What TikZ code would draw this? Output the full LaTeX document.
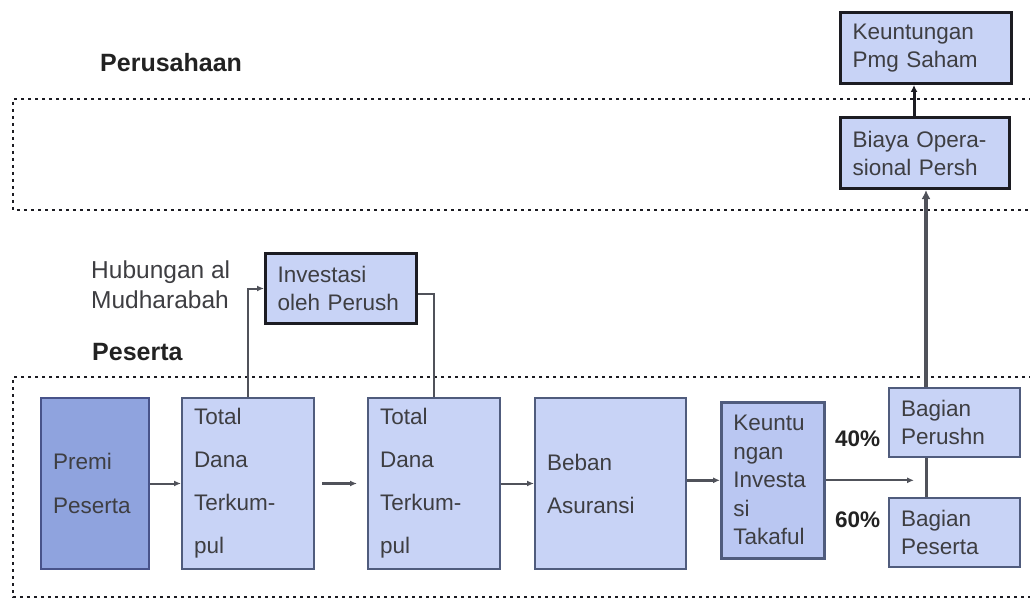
\documentclass[tikz,border=0pt]{standalone}
\usepackage{fontspec}
\setmainfont{Liberation Sans}
\usetikzlibrary{arrows.meta}
\definecolor{boxfill}{RGB}{200,211,246}
\definecolor{kitfill}{RGB}{186,199,242}
\definecolor{premifill}{RGB}{143,163,222}
\definecolor{boxline}{RGB}{80,92,125}
\definecolor{darkline}{RGB}{28,28,34}
\definecolor{txt}{RGB}{62,62,66}
\definecolor{arrowc}{RGB}{80,82,90}
\definecolor{titlec}{RGB}{34,34,34}
\tikzset{
  box/.style={draw=boxline, line width=2pt, fill=boxfill, inner xsep=12pt, inner ysep=0pt,
    text=txt, align=left, anchor=north west, font=\fontsize{22.5}{28}\selectfont},
  darkbox/.style={box, draw=darkline, line width=3pt},
  zone/.style={draw=darkline, line width=2.6pt, dash pattern=on 2.6pt off 4.4pt},
  flow/.style={draw=arrowc, line width=2pt, -{Latex[length=7pt,width=6pt]}},
  link/.style={draw=arrowc, line width=2pt},
  title/.style={font=\fontsize{25}{29}\selectfont\bfseries, text=titlec, anchor=base west, inner sep=0pt},
  note/.style={font=\fontsize{24.5}{30}\selectfont, text=txt, anchor=north west, align=left, inner sep=0pt},
  pct/.style={font=\fontsize{22.5}{26}\selectfont\bfseries, text=titlec, anchor=west, inner sep=0pt}
}
\begin{document}
\begin{tikzpicture}[x=1pt,y=-1pt]
\useasboundingbox (0,0) rectangle (1030,599);
% zones
\draw[zone] (1032,99) -- (13,99) -- (13,210) -- (1032,210);
\draw[zone] (1032,377) -- (13,377) -- (13,597) -- (1032,597);
% titles
\node[title] (tper) at (100,72) {Perusahaan};
\node[title] (tpes) at (92,360) {Peserta};
\node[note] (hub) at (91,261) {Hubungan al\\Mudharabah};
% top boxes
\node[darkbox, text width=147, minimum height=71] (kps) at (839,11) {Keuntungan\\Pmg Saham};
\node[darkbox, text width=145, minimum height=71] (biaya) at (839,116) {Biaya Opera-\\sional Persh};
\node[darkbox, text width=127, minimum height=70] (inv) at (264,252) {Investasi\\oleh Perush};
% lower boxes
\node[box, fill=premifill, draw=boxline!90!blue, text width=84, minimum height=171, font=\fontsize{22.5}{44}\selectfont] (premi) at (40,397) {Premi\\Peserta};
\node[box, text width=108, minimum height=171, font=\fontsize{22.5}{43}\selectfont] (td1) at (181,397) {Total\\Dana\\Terkum-\\pul};
\node[box, text width=108, minimum height=171, font=\fontsize{22.5}{43}\selectfont] (td2) at (367,397) {Total\\Dana\\Terkum-\\pul};
\node[box, text width=127, minimum height=171, font=\fontsize{22.5}{43}\selectfont] (beban) at (534,397) {Beban\\Asuransi};
\node[box, fill=kitfill, line width=2.6pt, text width=79, minimum height=156, font=\fontsize{22.5}{28.5}\selectfont] (kit) at (720,401) {Keuntu\\ngan\\Investa\\si\\Takaful};
\node[box, text width=107, minimum height=69] (bp1) at (888,387) {Bagian\\Perushn};
\node[box, text width=107, minimum height=69] (bp2) at (888,497) {Bagian\\Peserta};
% percentages
\node[pct] (p40) at (835,439) {40\%};
\node[pct] (p60) at (835,520) {60\%};
% coordinates
\coordinate (up) at ([xshift=38pt]bp1.north west);
\coordinate (upk) at ([xshift=75pt]biaya.north west);
% connectors
\draw[flow] (premi.east) -- (td1.west);
\draw[flow, line width=2.6pt, shorten <=7pt, shorten >=10pt] (td1.east) -- (td2.west);
\draw[flow] (td2.east) -- (beban.west);
\draw[flow, line width=2.6pt] (beban.east |- kit.west) -- (kit.west);
\draw[link, -{Latex[length=7pt,width=6pt]}] (td1.north) |- (inv.west);
\draw[link] ([yshift=-5pt]inv.east) -| (td2.north);
\draw[flow, shorten >=12pt] (kit.east) -- (kit.east -| up);
\draw[link, line width=3pt] (up |- bp1.south) -- (up |- bp2.north);
\draw[draw=arrowc, line width=4pt, -{Latex[length=9pt,width=9pt]}] (up) -- (up |- biaya.south);
\draw[draw=darkline, line width=3pt, -{Latex[length=7pt,width=7pt]}] (upk) -- (upk |- kps.south);
\end{tikzpicture}
\end{document}
